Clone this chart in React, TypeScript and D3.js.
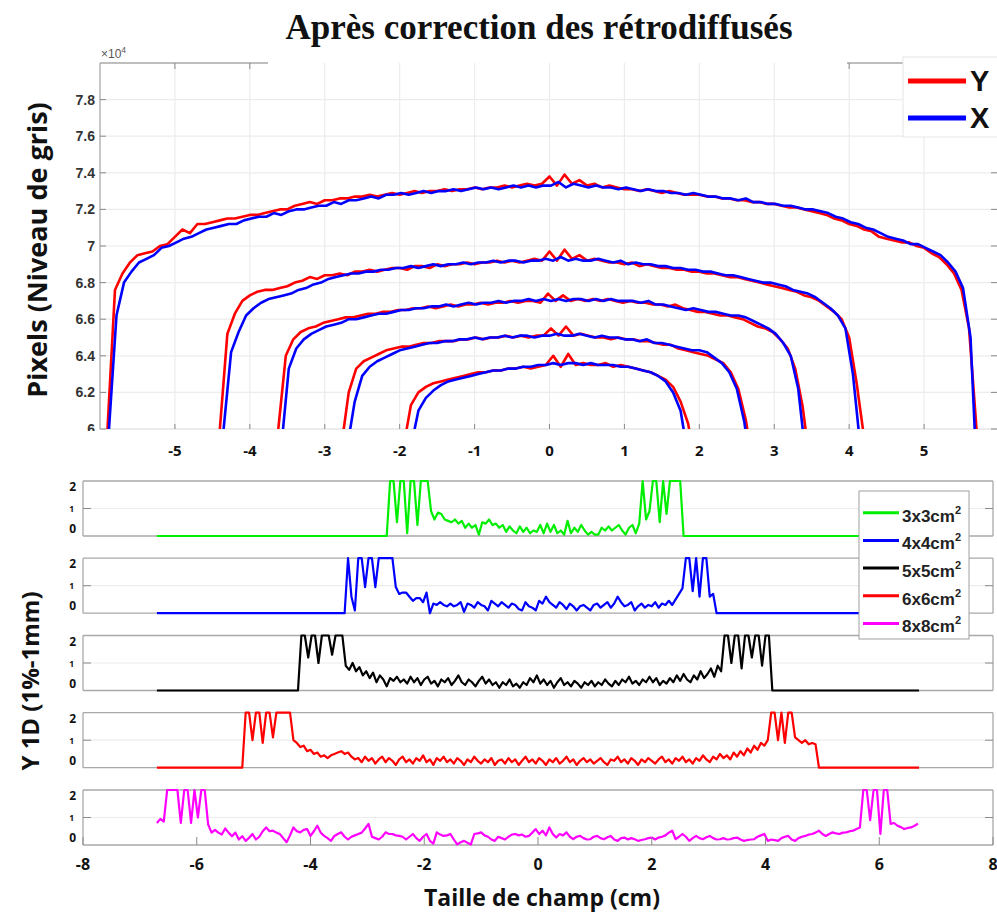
import React from 'react';
import * as d3 from 'd3';

// ---------------- Top chart: profiles (values in ×10^4), one sample every 0.1 cm ----------------
const TOP_STEP = 0.1;
const topXTicks = [-5, -4, -3, -2, -1, 0, 1, 2, 3, 4, 5];
const topYTicks = [6, 6.2, 6.4, 6.6, 6.8, 7, 7.2, 7.4, 7.6, 7.8];

const redAStart = -5.9;
const redA = [6.00, 6.76, 6.85, 6.91, 6.95, 6.96, 6.97, 7.00, 7.01, 7.05,
  7.09, 7.07, 7.12, 7.12, 7.13, 7.14, 7.15, 7.15, 7.16, 7.17,
  7.17, 7.18, 7.19, 7.20, 7.20, 7.22, 7.23, 7.24, 7.23, 7.25,
  7.25, 7.26, 7.26, 7.27, 7.27, 7.28, 7.27, 7.28, 7.29, 7.28,
  7.29, 7.30, 7.29, 7.30, 7.30, 7.31, 7.30, 7.31, 7.31, 7.32,
  7.31, 7.32, 7.32, 7.33, 7.32, 7.33, 7.34, 7.33, 7.34, 7.38,
  7.33, 7.39, 7.34, 7.36, 7.33, 7.34, 7.32, 7.33, 7.32, 7.31,
  7.31, 7.30, 7.31, 7.30, 7.29, 7.30, 7.29, 7.28, 7.28, 7.28,
  7.27, 7.27, 7.26, 7.26, 7.25, 7.25, 7.24, 7.24, 7.23, 7.23,
  7.22, 7.21, 7.21, 7.20, 7.19, 7.18, 7.17, 7.15, 7.14, 7.12,
  7.11, 7.09, 7.08, 7.05, 7.04, 7.03, 7.02, 7.02, 7.00, 6.99,
  6.96, 6.94, 6.90, 6.85, 6.76, 6.55, 6.00];
const blueAStart = -5.88;
const blueA = [6.00, 6.62, 6.80, 6.86, 6.91, 6.93, 6.95, 6.99, 7.00, 7.02,
  7.04, 7.05, 7.07, 7.09, 7.10, 7.11, 7.12, 7.12, 7.14, 7.15,
  7.16, 7.16, 7.18, 7.17, 7.19, 7.20, 7.20, 7.21, 7.22, 7.22,
  7.24, 7.23, 7.25, 7.25, 7.26, 7.27, 7.26, 7.28, 7.28, 7.29,
  7.28, 7.29, 7.30, 7.29, 7.30, 7.30, 7.31, 7.30, 7.31, 7.32,
  7.31, 7.32, 7.31, 7.32, 7.33, 7.32, 7.33, 7.32, 7.33, 7.33,
  7.35, 7.32, 7.34, 7.33, 7.32, 7.33, 7.32, 7.32, 7.31, 7.32,
  7.31, 7.30, 7.31, 7.30, 7.30, 7.29, 7.29, 7.28, 7.29, 7.28,
  7.27, 7.27, 7.26, 7.26, 7.25, 7.26, 7.24, 7.24, 7.23, 7.23,
  7.22, 7.22, 7.21, 7.20, 7.20, 7.19, 7.18, 7.16, 7.15, 7.13,
  7.12, 7.10, 7.09, 7.07, 7.05, 7.04, 7.03, 7.01, 7.01, 6.99,
  6.97, 6.95, 6.91, 6.86, 6.77, 6.50, 5.60];

const redBStart = -4.4;
const redB = [6.00, 6.52, 6.63, 6.70, 6.73, 6.75, 6.76, 6.76, 6.77, 6.78,
  6.80, 6.81, 6.83, 6.82, 6.84, 6.84, 6.85, 6.84, 6.86, 6.86,
  6.87, 6.86, 6.87, 6.88, 6.88, 6.87, 6.89, 6.89, 6.88, 6.90,
  6.89, 6.90, 6.90, 6.91, 6.90, 6.91, 6.91, 6.92, 6.91, 6.92,
  6.91, 6.92, 6.93, 6.92, 6.97, 6.92, 6.98, 6.93, 6.95, 6.92,
  6.93, 6.92, 6.91, 6.91, 6.90, 6.91, 6.89, 6.90, 6.89, 6.88,
  6.88, 6.87, 6.87, 6.86, 6.86, 6.85, 6.85, 6.84, 6.83, 6.83,
  6.82, 6.81, 6.80, 6.79, 6.78, 6.77, 6.76, 6.75, 6.73, 6.72,
  6.70, 6.67, 6.64, 6.60, 6.50, 6.25, 5.95];
const blueBStart = -4.35;
const blueB = [6.00, 6.42, 6.53, 6.62, 6.66, 6.69, 6.71, 6.72, 6.73, 6.74,
  6.76, 6.77, 6.79, 6.80, 6.82, 6.83, 6.84, 6.85, 6.85, 6.86,
  6.86, 6.87, 6.87, 6.88, 6.88, 6.89, 6.88, 6.89, 6.90, 6.89,
  6.90, 6.90, 6.91, 6.90, 6.91, 6.91, 6.92, 6.91, 6.92, 6.92,
  6.91, 6.92, 6.92, 6.93, 6.92, 6.94, 6.92, 6.93, 6.92, 6.92,
  6.93, 6.92, 6.91, 6.92, 6.90, 6.91, 6.90, 6.90, 6.89, 6.89,
  6.88, 6.88, 6.87, 6.87, 6.86, 6.86, 6.85, 6.84, 6.84, 6.83,
  6.82, 6.81, 6.80, 6.80, 6.79, 6.78, 6.76, 6.75, 6.74, 6.72,
  6.69, 6.66, 6.62, 6.55, 6.30, 5.90];

const redCStart = -3.62;
const redC = [6.00, 6.40, 6.49, 6.53, 6.55, 6.56, 6.58, 6.59, 6.60, 6.61,
  6.61, 6.62, 6.63, 6.63, 6.64, 6.64, 6.65, 6.65, 6.66, 6.66,
  6.67, 6.66, 6.67, 6.68, 6.67, 6.68, 6.68, 6.69, 6.68, 6.69,
  6.69, 6.70, 6.69, 6.70, 6.70, 6.69, 6.74, 6.70, 6.73, 6.70,
  6.71, 6.70, 6.71, 6.70, 6.71, 6.70, 6.69, 6.70, 6.69, 6.69,
  6.68, 6.68, 6.67, 6.68, 6.66, 6.65, 6.64, 6.64, 6.63, 6.62,
  6.62, 6.61, 6.60, 6.58, 6.56, 6.55, 6.53, 6.49, 6.44, 6.33,
  6.12, 5.80];
const blueCStart = -3.58;
const blueC = [5.90, 6.33, 6.44, 6.49, 6.52, 6.54, 6.56, 6.57, 6.58, 6.60,
  6.60, 6.61, 6.62, 6.63, 6.63, 6.64, 6.65, 6.65, 6.66, 6.66,
  6.67, 6.67, 6.68, 6.67, 6.68, 6.69, 6.68, 6.69, 6.69, 6.70,
  6.69, 6.70, 6.70, 6.71, 6.70, 6.71, 6.70, 6.71, 6.70, 6.71,
  6.71, 6.70, 6.71, 6.70, 6.71, 6.70, 6.70, 6.70, 6.69, 6.70,
  6.68, 6.68, 6.67, 6.66, 6.65, 6.66, 6.65, 6.64, 6.64, 6.63,
  6.62, 6.62, 6.61, 6.59, 6.57, 6.55, 6.52, 6.47, 6.40, 6.22,
  5.85];

const redDStart = -2.78;
const redD = [5.90, 6.20, 6.33, 6.37, 6.39, 6.41, 6.43, 6.44, 6.45, 6.45,
  6.46, 6.47, 6.47, 6.48, 6.48, 6.48, 6.49, 6.49, 6.50, 6.49,
  6.50, 6.50, 6.51, 6.50, 6.51, 6.50, 6.51, 6.51, 6.55, 6.51,
  6.56, 6.51, 6.52, 6.51, 6.50, 6.50, 6.49, 6.50, 6.49, 6.49,
  6.48, 6.48, 6.47, 6.46, 6.46, 6.44, 6.43, 6.42, 6.41, 6.40,
  6.38, 6.36, 6.31, 6.22, 6.05, 5.80];
const blueDStart = -2.7;
const blueD = [5.90, 6.15, 6.29, 6.34, 6.37, 6.39, 6.41, 6.43, 6.44, 6.45,
  6.46, 6.47, 6.47, 6.48, 6.48, 6.49, 6.49, 6.50, 6.49, 6.50,
  6.50, 6.51, 6.50, 6.51, 6.51, 6.50, 6.51, 6.51, 6.52, 6.51,
  6.51, 6.52, 6.51, 6.50, 6.51, 6.50, 6.50, 6.49, 6.49, 6.48,
  6.49, 6.47, 6.47, 6.46, 6.45, 6.44, 6.43, 6.43, 6.42, 6.39,
  6.36, 6.31, 6.22, 6.04, 5.75];

const redEStart = -1.95;
const redE = [5.90, 6.13, 6.20, 6.23, 6.25, 6.26, 6.27, 6.28, 6.29, 6.30,
  6.31, 6.31, 6.32, 6.32, 6.33, 6.33, 6.34, 6.33, 6.34, 6.35,
  6.40, 6.34, 6.41, 6.35, 6.36, 6.35, 6.35, 6.36, 6.34, 6.35,
  6.34, 6.33, 6.32, 6.31, 6.29, 6.27, 6.23, 6.15, 6.03, 5.80];
const blueEStart = -1.85;
const blueE = [5.90, 6.10, 6.17, 6.21, 6.24, 6.26, 6.27, 6.28, 6.29, 6.30,
  6.31, 6.32, 6.32, 6.33, 6.33, 6.34, 6.34, 6.35, 6.35, 6.36,
  6.35, 6.36, 6.36, 6.35, 6.36, 6.35, 6.35, 6.35, 6.34, 6.34,
  6.33, 6.32, 6.31, 6.29, 6.26, 6.20, 6.10, 5.85];

// ---------------- Bottom panels: gamma index, one sample every 0.06 cm ----------------
const BOT_STEP = 0.06;
const botRange = [-6.7, 6.7];
const botXTicks = [-8, -6, -4, -2, 0, 2, 4, 6, 8];
const fieldLabels = ['3x3cm', '4x4cm', '5x5cm', '6x6cm', '8x8cm'];

const g3Start = -2.66;
const g3 = [0, 2, 2, 0.5, 2, 2, 0.1, 2, 2, 0.4,
  2, 2, 2, 0.9, 0.6, 0.85, 0.8, 0.6, 0.55, 0.5,
  0.6, 0.45, 0.55, 0.3, 0.45, 0.3, 0.4, 0.05, 0.5, 0.45,
  0.6, 0.4, 0.45, 0.3, 0.4, 0.15, 0.35, 0.2, 0.1, 0.35,
  0.15, 0.3, 0.1, 0.2, 0.15, 0.4, 0.1, 0.45, 0.15, 0.4,
  0.1, 0.2, 0.05, 0.55, 0.1, 0.3, 0.15, 0.4, 0.2, 0.05,
  0.15, 0.05, 0.05, 0.3, 0.2, 0.35, 0.2, 0.3, 0.4, 0.2,
  0.05, 0.3, 0.4, 0.1, 0.45, 2, 0.6, 0.9, 2, 2,
  0.5, 2, 0.8, 2, 2, 2, 2, 0];

const g4Start = -3.40;
const g4 = [0, 2, 0.6, 0.1, 2, 2, 0.95, 2, 2, 0.95,
  2, 2, 2, 2, 2, 0.95, 0.7, 0.75, 0.75, 0.6,
  0.45, 0.55, 0.55, 0.4, 0.75, 0.0, 0.35, 0.3, 0.4, 0.3,
  0.25, 0.35, 0.25, 0.3, 0.4, 0.05, 0.35, 0.3, 0.2, 0.4,
  0.3, 0.25, 0.1, 0.45, 0.35, 0.25, 0.4, 0.3, 0.2, 0.35,
  0.3, 0.15, 0.1, 0.4, 0.25, 0.2, 0.1, 0.45, 0.35, 0.6,
  0.4, 0.3, 0.2, 0.4, 0.3, 0.15, 0.35, 0.25, 0.1, 0.25,
  0.3, 0.2, 0.1, 0.3, 0.35, 0.2, 0.3, 0.4, 0.2, 0.35,
  0.6, 0.4, 0.25, 0.3, 0.4, 0.1, 0.25, 0.35, 0.2, 0.3,
  0.25, 0.4, 0.2, 0.35, 0.3, 0.45, 0.3, 0.5, 0.7, 0.9,
  2, 2, 0.8, 2, 0.6, 2, 2, 0.6, 0.7, 0];

const g5Start = -4.22;
const g5 = [0, 2, 2, 1.2, 2, 2, 1.0, 2, 2, 2,
  1.3, 2, 2, 2, 0.9, 0.75, 1.0, 0.7, 0.85, 0.55,
  0.7, 0.45, 0.65, 0.3, 0.55, 0.4, 0.15, 0.45, 0.35, 0.5,
  0.3, 0.4, 0.25, 0.5, 0.3, 0.45, 0.2, 0.4, 0.5, 0.25,
  0.35, 0.15, 0.4, 0.3, 0.45, 0.2, 0.35, 0.55, 0.3, 0.2,
  0.4, 0.3, 0.15, 0.35, 0.5, 0.25, 0.4, 0.2, 0.3, 0.1,
  0.3, 0.2, 0.4, 0.15, 0.25, 0.1, 0.3, 0.2, 0.45, 0.3,
  0.55, 0.25, 0.4, 0.2, 0.35, 0.1, 0.3, 0.45, 0.2, 0.3,
  0.15, 0.35, 0.25, 0.1, 0.3, 0.2, 0.35, 0.15, 0.3, 0.2,
  0.4, 0.25, 0.15, 0.35, 0.2, 0.4, 0.3, 0.5, 0.25, 0.35,
  0.2, 0.4, 0.3, 0.5, 0.3, 0.45, 0.2, 0.35, 0.25, 0.45,
  0.3, 0.55, 0.35, 0.6, 0.4, 0.3, 0.55, 0.4, 0.7, 0.45,
  0.6, 0.8, 0.5, 0.9, 0.7, 2, 2, 1.0, 2, 2,
  0.8, 2, 2, 1.2, 2, 2, 0.9, 2, 2, 0];

const g6Start = -5.20;
const g6 = [0, 2, 2, 1.0, 2, 2, 0.9, 2, 2, 1.1,
  2, 2, 2, 2, 2, 1.0, 0.9, 0.75, 0.8, 0.6,
  0.65, 0.5, 0.55, 0.4, 0.45, 0.35, 0.45, 0.5, 0.55, 0.6,
  0.5, 0.55, 0.4, 0.3, 0.35, 0.2, 0.4, 0.25, 0.35, 0.15,
  0.3, 0.4, 0.2, 0.35, 0.25, 0.1, 0.3, 0.4, 0.2, 0.3,
  0.15, 0.35, 0.25, 0.45, 0.2, 0.3, 0.1, 0.35, 0.25, 0.4,
  0.2, 0.3, 0.15, 0.35, 0.25, 0.1, 0.3, 0.2, 0.4, 0.25,
  0.15, 0.3, 0.2, 0.35, 0.1, 0.25, 0.3, 0.15, 0.35, 0.2,
  0.3, 0.1, 0.25, 0.4, 0.2, 0.3, 0.15, 0.35, 0.25, 0.1,
  0.3, 0.2, 0.35, 0.15, 0.25, 0.4, 0.2, 0.3, 0.1, 0.25,
  0.35, 0.2, 0.3, 0.15, 0.25, 0.35, 0.2, 0.1, 0.3, 0.25,
  0.4, 0.2, 0.3, 0.15, 0.35, 0.25, 0.1, 0.3, 0.2, 0.35,
  0.25, 0.15, 0.3, 0.4, 0.2, 0.3, 0.15, 0.35, 0.25, 0.4,
  0.2, 0.3, 0.15, 0.35, 0.25, 0.45, 0.3, 0.2, 0.4, 0.3,
  0.5, 0.35, 0.45, 0.3, 0.55, 0.4, 0.6, 0.45, 0.7, 0.55,
  0.8, 0.65, 0.9, 0.8, 1.0, 2, 2, 1.0, 2, 0.9,
  2, 2, 1.1, 1.0, 0.9, 1.0, 0.85, 0.9, 0.85, 0];

const g8Start = -6.70;
const g8 = [0.8, 0.95, 0.85, 2, 2, 2, 2, 0.8, 2, 2,
  0.8, 2, 1.0, 2, 2, 0.75, 0.45, 0.55, 0.45, 0.38,
  0.6, 0.45, 0.32, 0.45, 0.2, 0.32, 0.15, 0.26, 0.4, 0.2,
  0.3, 0.5, 0.64, 0.5, 0.52, 0.45, 0.4, 0.25, 0.1, 0.35,
  0.64, 0.5, 0.46, 0.55, 0.58, 0.33, 0.5, 0.7, 0.45, 0.33,
  0.25, 0.15, 0.33, 0.4, 0.46, 0.3, 0.2, 0.3, 0.35, 0.4,
  0.45, 0.6, 0.77, 0.3, 0.25, 0.2, 0.3, 0.46, 0.4, 0.4,
  0.35, 0.33, 0.3, 0.2, 0.3, 0.4, 0.25, 0.15, 0.3, 0.4,
  0.15, 0.05, 0.46, 0.38, 0.33, 0.35, 0.4, 0.2, 0.02, 0.1,
  0.15, 0.08, 0.02, 0.4, 0.42, 0.46, 0.35, 0.3, 0.2, 0.15,
  0.3, 0.25, 0.2, 0.3, 0.38, 0.4, 0.35, 0.38, 0.3, 0.33,
  0.45, 0.58, 0.4, 0.52, 0.35, 0.64, 0.4, 0.27, 0.4, 0.35,
  0.46, 0.3, 0.21, 0.3, 0.33, 0.25, 0.2, 0.21, 0.3, 0.33,
  0.25, 0.21, 0.28, 0.33, 0.2, 0.15, 0.25, 0.27, 0.2, 0.25,
  0.21, 0.15, 0.18, 0.21, 0.25, 0.27, 0.2, 0.27, 0.3, 0.35,
  0.45, 0.52, 0.21, 0.3, 0.4, 0.3, 0.15, 0.25, 0.33, 0.25,
  0.21, 0.28, 0.33, 0.25, 0.2, 0.21, 0.25, 0.2, 0.21, 0.25,
  0.27, 0.2, 0.15, 0.18, 0.2, 0.21, 0.3, 0.35, 0.4, 0.15,
  0.2, 0.18, 0.15, 0.25, 0.3, 0.33, 0.2, 0.15, 0.25, 0.3,
  0.33, 0.38, 0.4, 0.45, 0.52, 0.4, 0.33, 0.4, 0.46, 0.42,
  0.4, 0.45, 0.46, 0.5, 0.52, 0.58, 0.64, 2, 2, 0.9,
  2, 2, 0.4, 2, 2, 0.77, 0.8, 0.7, 0.65, 0.58,
  0.62, 0.64, 0.7, 0.77];

type Pt = [number, number];
const toPts = (x0: number, step: number, vals: number[]): Pt[] =>
  vals.map((v, i) => [x0 + i * step, v] as Pt);

const SANS_B = 'Open Sans, sans-serif';
const ARIAL = 'Liberation Sans, Arial, sans-serif';

export default function App() {
  const W = 997, H = 919;
  const xTop = d3.scaleLinear().domain([-6, 6]).range([100, 999]);
  const yTop = d3.scaleLinear().domain([6, 8]).range([429, 63]);
  const xBot = d3.scaleLinear().domain([-8, 8]).range([83, 993]);
  const lineTop = d3.line<Pt>().x(d => xTop(d[0])).y(d => yTop(d[1]));

  const topSeries = [
    { c: '#ff0000', x0: redAStart, v: redA }, { c: '#ff0000', x0: redBStart, v: redB },
    { c: '#ff0000', x0: redCStart, v: redC }, { c: '#ff0000', x0: redDStart, v: redD },
    { c: '#ff0000', x0: redEStart, v: redE },
    { c: '#0000ff', x0: blueAStart, v: blueA }, { c: '#0000ff', x0: blueBStart, v: blueB },
    { c: '#0000ff', x0: blueCStart, v: blueC }, { c: '#0000ff', x0: blueDStart, v: blueD },
    { c: '#0000ff', x0: blueEStart, v: blueE },
  ];

  const panelTops = [481, 558.2, 635.5, 712.7, 790];
  const PH = 55;
  const botSeries = [
    { c: '#00ee00', x0: g3Start, v: g3, flat: true },
    { c: '#0000ff', x0: g4Start, v: g4, flat: true },
    { c: '#000000', x0: g5Start, v: g5, flat: true },
    { c: '#ff0000', x0: g6Start, v: g6, flat: true },
    { c: '#ff00ff', x0: g8Start, v: g8, flat: false },
  ];

  const gridC = '#ececec';
  const frameC = '#a9a9a9';
  const tickC = '#8a8a8a';

  return (
    <svg width={W} height={H} style={{ position: 'absolute', left: 0, top: 0, background: '#fff' }}>
      <defs>
        <clipPath id="topClip"><rect x={100} y={63} width={899} height={366} /></clipPath>
        <clipPath id="ylabClip"><rect x={0} y={0} width={100} height={431} /></clipPath>
      </defs>
      <rect x={0} y={0} width={W} height={H} fill="#fff" />

      {/* ---------- TOP CHART ---------- */}
      <g>
        {topXTicks.map(t => (
          <line key={'gx' + t} x1={xTop(t)} x2={xTop(t)} y1={63} y2={429} stroke={gridC} strokeWidth={1.2} />
        ))}
        {topYTicks.filter(t => t > 6).map(t => (
          <line key={'gy' + t} x1={100} x2={999} y1={yTop(t)} y2={yTop(t)} stroke={gridC} strokeWidth={1.2} />
        ))}
        <line x1={100} x2={100} y1={63} y2={429} stroke={frameC} strokeWidth={1.3} />
        <line x1={100} x2={999} y1={429} y2={429} stroke="#d8d8d8" strokeWidth={1} />
        <line x1={100} x2={268} y1={63} y2={63} stroke={frameC} strokeWidth={1.3} />
        <line x1={847} x2={903} y1={63} y2={63} stroke={frameC} strokeWidth={1.3} />
        {topXTicks.map(t => (
          <g key={'tx' + t}>
            <line x1={xTop(t)} x2={xTop(t)} y1={429} y2={424} stroke={tickC} />
            {(xTop(t) < 268 || (xTop(t) > 847 && xTop(t) < 903)) && (
              <line x1={xTop(t)} x2={xTop(t)} y1={63} y2={69} stroke={tickC} />
            )}
          </g>
        ))}
        {topYTicks.map(t => (
          <g key={'ty' + t}>
            <line x1={100} x2={106} y1={yTop(t)} y2={yTop(t)} stroke={tickC} />
            <line x1={991} x2={997} y1={yTop(t)} y2={yTop(t)} stroke={tickC} />
          </g>
        ))}
        <g clipPath="url(#ylabClip)">
          {topYTicks.map(t => (
            <text key={'yl' + t} x={95} y={yTop(t) + 5} textAnchor="end" fontFamily={ARIAL}
              fontWeight="bold" fontSize={14} fill="#333">{String(t)}</text>
          ))}
        </g>
        <text x={101} y={58} fontFamily={ARIAL} fontSize={12} fill="#555">
          ×10<tspan dy={-5} fontSize={8.5}>4</tspan>
        </text>
        {topXTicks.map(t => (
          <text key={'xl' + t} x={xTop(t)} y={456} textAnchor="middle" fontFamily={SANS_B}
            fontWeight="bold" fontSize={15} fill="#111">{String(t)}</text>
        ))}

        <g clipPath="url(#topClip)">
          {topSeries.map((s, i) => (
            <path key={'ts' + i} d={lineTop(toPts(s.x0, TOP_STEP, s.v)) || ''} fill="none" stroke={s.c}
              strokeWidth={2.6} strokeLinejoin="round" />
          ))}
        </g>

        <rect x={903} y={57} width={100} height={80} fill="#fff" stroke="#e6e6e6" />
        <line x1={908} x2={966} y1={81} y2={81} stroke="#ff0000" strokeWidth={5} />
        <line x1={908} x2={966} y1={118} y2={118} stroke="#0000ff" strokeWidth={5} />
        <text x={970} y={91} fontFamily={ARIAL} fontWeight="bold" fontSize={29} fill="#111">Y</text>
        <text x={970} y={128} fontFamily={ARIAL} fontWeight="bold" fontSize={29} fill="#111">X</text>
      </g>

      <text x={539} y={39} textAnchor="middle" fontFamily="Liberation Serif, serif" fontWeight="bold" fontSize={35} fill="#111">
        Après correction des rétrodiffusés
      </text>

      <text transform="translate(47,250) rotate(-90)" textAnchor="middle" fontFamily={SANS_B} fontWeight="bold"
        fontSize={27} fill="#111">Pixels (Niveau de gris)</text>
      <text transform="translate(39,681) rotate(-90)" textAnchor="middle" fontFamily={SANS_B} fontWeight="bold"
        fontSize={24} fill="#111">Y 1D (1%-1mm)</text>
      <text x={542} y={906} textAnchor="middle" fontFamily={SANS_B} fontWeight="bold" fontSize={23} fill="#111">
        Taille de champ (cm)
      </text>

      {/* ---------- BOTTOM PANELS ---------- */}
      {botSeries.map((s, i) => {
        const top = panelTops[i];
        const y = d3.scaleLinear().domain([0, 2]).range([top + PH, top]);
        const line = d3.line<Pt>().x(d => xBot(d[0])).y(d => y(d[1]));
        const detail = toPts(s.x0, BOT_STEP, s.v);
        const pts: Pt[] = s.flat ? [[botRange[0], 0], ...detail, [botRange[1], 0]] : detail;
        return (
          <g key={'p' + i}>
            <line x1={83} x2={993} y1={y(1)} y2={y(1)} stroke={gridC} strokeWidth={1.2} />
            <line x1={83} x2={993} y1={top} y2={top} stroke={frameC} strokeWidth={1.3} />
            <line x1={83} x2={993} y1={top + PH} y2={top + PH} stroke={frameC} strokeWidth={1.3} />
            <line x1={83} x2={83} y1={top} y2={top + PH} stroke={frameC} strokeWidth={1.3} />
            <line x1={993} x2={993} y1={top} y2={top + PH} stroke={frameC} strokeWidth={1.3} />
            <line x1={83} x2={91} y1={y(1)} y2={y(1)} stroke={tickC} />
            <line x1={985} x2={993} y1={y(1)} y2={y(1)} stroke={tickC} />
            <text x={76} y={top + 10} textAnchor="end" fontFamily={SANS_B} fontWeight="bold" fontSize={12} fill="#111">2</text>
            <text x={74} y={y(1) + 3.5} textAnchor="end" fontFamily={SANS_B} fontWeight="bold" fontSize={8.5} fill="#111">1</text>
            <text x={76} y={top + PH - 3} textAnchor="end" fontFamily={SANS_B} fontWeight="bold" fontSize={12} fill="#111">0</text>
            <path d={line(pts) || ''} fill="none" stroke={s.c} strokeWidth={2.2} strokeLinejoin="round" />
          </g>
        );
      })}
      {botXTicks.map(t => (
        <g key={'bx' + t}>
          <line x1={xBot(t)} x2={xBot(t)} y1={panelTops[4] + PH} y2={panelTops[4] + PH - 8} stroke={tickC} />
          <text x={xBot(t)} y={870} textAnchor="middle" fontFamily={SANS_B} fontWeight="bold" fontSize={16} fill="#111">{String(t)}</text>
        </g>
      ))}

      <rect x={859} y={491} width={110} height={148} fill="#fff" stroke="#a0a0a0" strokeWidth={1} />
      {botSeries.map((s, i) => (
        <g key={'lg' + i}>
          <line x1={863} x2={899} y1={512.7 + i * 27.7} y2={512.7 + i * 27.7} stroke={s.c} strokeWidth={3} />
          <text x={902} y={521.5 + i * 27.7} fontFamily={ARIAL} fontWeight="bold" fontSize={17} fill="#222">
            {fieldLabels[i]}<tspan dy={-8} fontSize={11}>2</tspan>
          </text>
        </g>
      ))}
    </svg>
  );
}
